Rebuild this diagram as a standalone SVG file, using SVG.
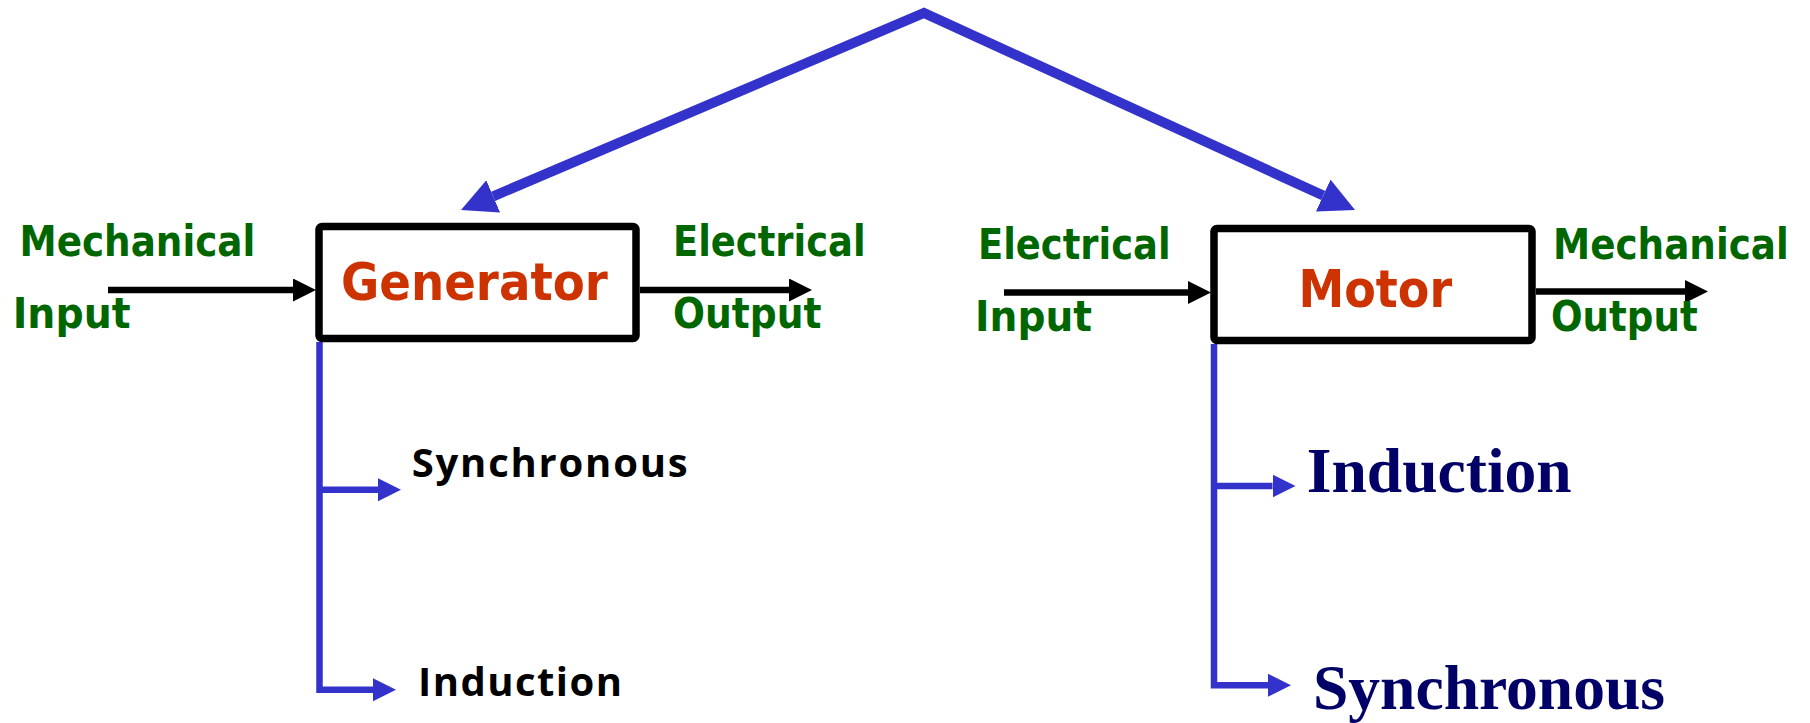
<svg xmlns="http://www.w3.org/2000/svg" width="1810" height="723" viewBox="0 0 1810 723">
<style>
.box{fill:#fff;stroke:#000;stroke-width:7.5}
.lbl{font-family:"DejaVu Sans","Liberation Sans",sans-serif;font-weight:bold;font-size:43px;fill:#006600}
.title{font-family:"DejaVu Sans","Liberation Sans",sans-serif;font-weight:bold;font-size:52px;fill:#cc3300}
.gtype{font-family:"Open Sans","Noto Sans",sans-serif;font-weight:bold;font-size:40px;fill:#000}
.mtype{font-family:"Liberation Serif","Times New Roman",serif;font-weight:bold;font-size:64px;fill:#000066}
.blk{fill:none;stroke:#000;stroke-width:6.5}
.blu{fill:none;stroke:#3333cc;stroke-width:6.5}
.big{fill:none;stroke:#3333cc;stroke-width:10;stroke-linejoin:miter}
</style>
<defs>
<marker id="ak" markerUnits="userSpaceOnUse" markerWidth="24" markerHeight="24" refX="0" refY="11.5" orient="auto">
<path d="M0,0 L23,11.5 L0,23 z" fill="#000"/>
</marker>
<marker id="ab" markerUnits="userSpaceOnUse" markerWidth="24" markerHeight="24" refX="0" refY="11.5" orient="auto">
<path d="M0,0 L23,11.5 L0,23 z" fill="#3333cc"/>
</marker>
<marker id="abig" markerUnits="userSpaceOnUse" markerWidth="36" markerHeight="36" refX="0" refY="17.5" orient="auto-start-reverse">
<path d="M0,0 L35,17.5 L0,35 z" fill="#3333cc"/>
</marker>
</defs>
<g id="connectors">
<path class="big" d="M493.2,196.3 L924,13 L1323.2,195.5" marker-start="url(#abig)" marker-end="url(#abig)"/>
<line class="blk" x1="108" y1="290" x2="293" y2="290" marker-end="url(#ak)"/>
<line class="blk" x1="640" y1="290" x2="789" y2="290" marker-end="url(#ak)"/>
<line class="blk" x1="1004" y1="292.5" x2="1188" y2="292.5" marker-end="url(#ak)"/>
<line class="blk" x1="1536" y1="291.5" x2="1685" y2="291.5" marker-end="url(#ak)"/>
<path class="blu" d="M319.5,342 V689.7 H373" marker-end="url(#ab)"/>
<line class="blu" x1="319.5" y1="489.7" x2="378" y2="489.7" marker-end="url(#ab)"/>
<path class="blu" d="M1214,344 V685.3 H1268" marker-end="url(#ab)"/>
<line class="blu" x1="1214" y1="486" x2="1272.5" y2="486" marker-end="url(#ab)"/>
</g>
<g id="generator">
<rect class="box" x="319" y="226.5" width="317" height="112" rx="3"/>
<text class="title" transform="translate(341,300) scale(0.92,1)" textLength="290" lengthAdjust="spacingAndGlyphs">Generator</text>
</g>
<g id="motor">
<rect class="box" x="1214" y="228.5" width="318" height="112" rx="3"/>
<text class="title" transform="translate(1298.5,306.5) scale(0.92,1)" textLength="167" lengthAdjust="spacingAndGlyphs">Motor</text>
</g>
<g id="gen-input">
<text class="lbl" transform="translate(19.5,256) scale(0.9,1)" textLength="262" lengthAdjust="spacingAndGlyphs">Mechanical</text>
<text class="lbl" transform="translate(12.7,328) scale(0.9,1)" textLength="131" lengthAdjust="spacingAndGlyphs">Input</text>
</g>
<g id="gen-output">
<text class="lbl" transform="translate(673,256) scale(0.9,1)" textLength="214" lengthAdjust="spacingAndGlyphs">Electrical</text>
<text class="lbl" transform="translate(673,328.3) scale(0.9,1)" textLength="165" lengthAdjust="spacingAndGlyphs">Output</text>
</g>
<g id="motor-input">
<text class="lbl" transform="translate(978,259) scale(0.9,1)" textLength="214" lengthAdjust="spacingAndGlyphs">Electrical</text>
<text class="lbl" transform="translate(975,331) scale(0.9,1)" textLength="130" lengthAdjust="spacingAndGlyphs">Input</text>
</g>
<g id="motor-output">
<text class="lbl" transform="translate(1553,259) scale(0.9,1)" textLength="262" lengthAdjust="spacingAndGlyphs">Mechanical</text>
<text class="lbl" transform="translate(1551,331) scale(0.9,1)" textLength="163" lengthAdjust="spacingAndGlyphs">Output</text>
</g>
<g id="gen-synchronous">
<text class="gtype" x="411.7" y="477" textLength="276" lengthAdjust="spacing">Synchronous</text>
</g>
<g id="gen-induction">
<text class="gtype" x="418" y="696" textLength="204" lengthAdjust="spacing">Induction</text>
</g>
<g id="motor-induction">
<text class="mtype" x="1306.7" y="492" textLength="265" lengthAdjust="spacingAndGlyphs">Induction</text>
</g>
<g id="motor-synchronous">
<text class="mtype" x="1313" y="708.7" textLength="352" lengthAdjust="spacingAndGlyphs">Synchronous</text>
</g>
</svg>
